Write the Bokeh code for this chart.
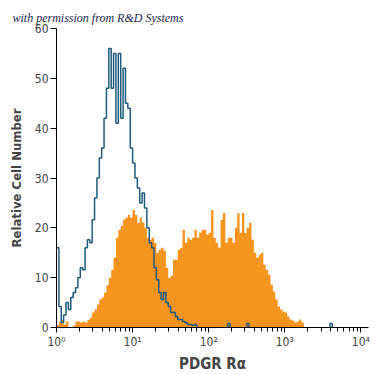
import numpy as np
from bokeh.plotting import figure
from bokeh.models import FixedTicker, LogTicker
from bokeh.embed import file_html
from bokeh.resources import INLINE

# histogram channels: 32 channels per decade, starting at 10^0
CHANNELS_PER_DECADE = 32

# isotype control (blue outline)
control_counts = [16, 4.2, 1, 2.5, 5, 3.6, 6, 7, 8, 10,
                  12, 11.6, 16, 17.6, 17, 21.6, 26, 30, 34, 36,
                  42, 48, 56, 48, 55, 41, 55, 42, 52, 45,
                  44, 36, 33, 30, 28, 25, 27, 24, 20, 17,
                  16, 12, 9.6, 7, 5.6, 7, 5, 4.2, 3, 3,
                  2.2, 1.6, 1.6, 1.2, 1, 0.6, 0.6, 0.4, 0.6, 0,
                  0, 0, 0, 0, 0, 0, 0, 0, 0, 0,
                  0, 0, 0.8, 0, 0, 0, 0, 0, 0, 0,
                  0.8, 0, 0, 0, 0, 0, 0, 0, 0, 0,
                  0, 0, 0, 0, 0, 0, 0, 0, 0, 0,
                  0, 0, 0, 0, 0, 0, 0, 0, 0, 0,
                  0, 0, 0, 0, 0, 0.8, 0, 0, 0, 0]

# PDGF R alpha stained cells (orange filled)
stained_counts = [0.5, 1.2, 1.5, 0.6, 1.2, 0, 0, 0.4, 1.2, 1.2,
                  1, 1.2, 1, 1.5, 2, 3, 3.6, 4.6, 5.6, 6,
                  7, 8.5, 10, 11.6, 14, 18, 19.6, 20.4, 21.6, 22,
                  22.6, 22, 23.6, 22.6, 21, 22, 21, 20, 18, 17.6,
                  18, 17, 15, 15.6, 16, 15.4, 12, 10, 10.4, 13.6,
                  13.6, 15.6, 16, 19.6, 17, 18, 17.6, 18, 19.6, 18,
                  19, 19.6, 19.6, 18.6, 19, 23.6, 18, 17, 16, 21.6,
                  23, 17, 18, 18, 17, 20, 23, 19, 23, 19,
                  20, 21, 17.6, 15, 14, 14.6, 15, 12.6, 11.6, 10.6,
                  8.6, 7.2, 5.6, 4.2, 3.6, 3.2, 3, 2.2, 1.6, 1.4,
                  1, 1.2, 1.6, 1]

y_ticks = [0, 10, 20, 30, 40, 50, 60]
x_tick_labels = {1: "10⁰", 10: "10¹", 100: "10²", 1000: "10³", 10000: "10⁴"}

ORANGE = "#F7941D"
BLUE = "#1d5b7c"
NARROW = "DejaVu Sans Condensed"

p = figure(width=375, height=375, output_backend="svg", toolbar_location=None,
           x_axis_type="log", x_range=(1, 12600), y_range=(0, 60),
           min_border_left=56, min_border_right=7, min_border_top=28,
           min_border_bottom=47)
p.outline_line_color = None
p.xgrid.visible = False
p.ygrid.visible = False
p.background_fill_color = "white"

# orange filled histogram as one stepped area
n_s = len(stained_counts)
edges_s = 10 ** (np.arange(n_s + 1) / CHANNELS_PER_DECADE)
sx = np.repeat(edges_s, 2)[1:-1]
sy = np.repeat(stained_counts, 2)
p.varea(x=sx, y1=0, y2=sy, fill_color=ORANGE)

# blue outline histogram as a step path (zero runs left undrawn)
n_c = len(control_counts)
edges_c = 10 ** (np.arange(n_c + 1) / CHANNELS_PER_DECADE)
xs, ys = [], []
for i, v in enumerate(control_counts):
    if v == 0:
        xs += [edges_c[i], np.nan, edges_c[i + 1]]
        ys += [0, np.nan, 0]
    else:
        xs += [edges_c[i], edges_c[i + 1]]
        ys += [v, v]
p.line(xs, ys, line_color=BLUE, line_width=1.5)

# title text
p.title.text = "with permission from R&D Systems"
p.title.text_font = "Liberation Serif"
p.title.text_font_style = "italic"
p.title.text_font_size = "12px"
p.title.text_color = "#1a1f4f"
p.title.align = "left"
p.title.offset = -44
p.title.standoff = 8

# y axis
p.yaxis.ticker = FixedTicker(ticks=y_ticks)
p.yaxis.axis_label = "Relative Cell Number"
p.yaxis.axis_label_text_font = NARROW
p.yaxis.axis_label_text_font_style = "bold"
p.yaxis.axis_label_text_font_size = "13px"
p.yaxis.axis_label_standoff = 8
p.yaxis.major_label_text_font = NARROW
p.yaxis.major_label_text_font_size = "12px"
p.yaxis.major_label_standoff = 2
p.yaxis.major_tick_out = 6
p.yaxis.major_tick_in = 0
p.yaxis.minor_tick_line_color = None
p.yaxis.axis_line_color = "black"

# x axis
p.xaxis.ticker = LogTicker(num_minor_ticks=10)
p.xaxis.major_label_overrides = x_tick_labels
p.xaxis.axis_label = "PDGR Rα"
p.xaxis.axis_label_text_font = NARROW
p.xaxis.axis_label_text_font_style = "bold"
p.xaxis.axis_label_text_font_size = "15px"
p.xaxis.axis_label_standoff = 3
p.xaxis.major_label_text_font = NARROW
p.xaxis.major_label_text_font_size = "12px"
p.xaxis.major_label_standoff = 2
p.xaxis.major_tick_out = 5
p.xaxis.major_tick_in = 0
p.xaxis.minor_tick_out = 4
p.xaxis.minor_tick_in = 0
p.xaxis.axis_line_color = "black"

open("out.html", "w").write(file_html(p, INLINE))
